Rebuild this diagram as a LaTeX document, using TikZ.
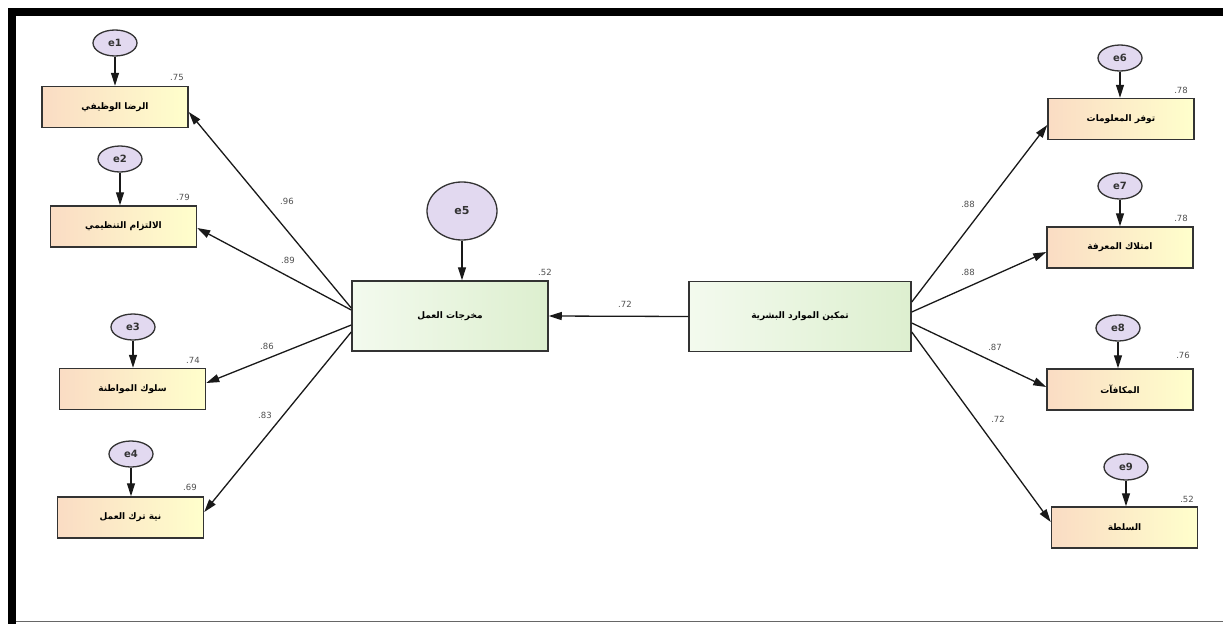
\documentclass[tikz,border=0pt]{standalone}
\usepackage{fontspec}
\setmainfont{DejaVu Sans}
\newfontfamily\arabicfont[Script=Arabic]{DejaVu Sans}
\TeXXeTstate=1
\usetikzlibrary{arrows.meta,shapes.geometric}
\definecolor{peach}{HTML}{FADCC4}
\definecolor{lyel}{HTML}{FFFFCC}
\definecolor{lgrA}{HTML}{F3FAEE}
\definecolor{lgrB}{HTML}{DDEFCF}
\definecolor{lav}{HTML}{E2D9F0}
\definecolor{edge}{HTML}{333333}
\definecolor{numc}{HTML}{505050}
\tikzset{
  obsbox/.style={draw=edge, line width=1.5pt, left color=peach, right color=lyel,
    minimum width=146pt, minimum height=41pt, inner sep=0pt,
    font=\arabicfont\bfseries\fontsize{9}{10}\selectfont},
  latbox/.style={draw=edge, line width=1.5pt, left color=lgrA, right color=lgrB,
    minimum height=70pt, inner sep=0pt,
    font=\arabicfont\bfseries\fontsize{9}{10}\selectfont},
  errell/.style={ellipse, draw=edge, line width=1.3pt, fill=lav,
    minimum width=44pt, minimum height=26pt, inner sep=0pt,
    font=\bfseries\fontsize{10}{11}\selectfont, text=black!80},
  arr/.style={draw=black!90, line width=1.3pt, -{Triangle[length=13pt,width=8pt]}},
  num/.style={font=\fontsize{8.5}{9}\selectfont, text=numc, inner sep=0pt}
}
\newcommand{\AR}[1]{\beginR #1\endR}
\begin{document}
\begin{tikzpicture}[x=1pt,y=-1pt]
\useasboundingbox (0,0) rectangle (1223,624);
\fill[white] (0,0) rectangle (1223,624);
% frame
\fill[black] (8,8) rectangle (1223,16);
\fill[black] (8,8) rectangle (16,624);
\draw[black!60, line width=1pt] (16,621) -- (1223,621);

% left observed boxes
\node[obsbox] (B1) at (115,107) {\AR{الرضا الوظيفي}};
\node[obsbox] (B2) at (123.5,226.5) {\AR{الالتزام التنظيمي}};
\node[obsbox] (B3) at (132.5,389) {\AR{سلوك المواطنة}};
\node[obsbox] (B4) at (130.5,517.5) {\AR{نية ترك العمل}};
% right observed boxes
\node[obsbox] (R1) at (1121,119) {\AR{توفر المعلومات}};
\node[obsbox] (R2) at (1120,247.5) {\AR{امتلاك المعرفة}};
\node[obsbox] (R3) at (1120,389.5) {\AR{المكافآت}};
\node[obsbox] (R4) at (1124.5,527.5) {\AR{السلطة}};
% central boxes
\node[latbox, minimum width=196pt] (M) at (450,316) {\AR{مخرجات العمل}};
\node[latbox, minimum width=222pt] (T) at (800,316.5) {\AR{تمكين الموارد البشرية}};

% error terms
\node[errell] (e1) at (115,43) {e1};
\node[errell] (e2) at (120,159) {e2};
\node[errell] (e3) at (133,327) {e3};
\node[errell] (e4) at (131,454) {e4};
\node[errell, minimum width=70pt, minimum height=58pt, font=\bfseries\fontsize{11}{12}\selectfont] (e5) at (462,211) {e5};
\node[errell] (e6) at (1120,58) {e6};
\node[errell] (e7) at (1120,186) {e7};
\node[errell] (e8) at (1118,328) {e8};
\node[errell] (e9) at (1126,467) {e9};

\foreach \e/\b in {e1/B1,e2/B2,e3/B3,e4/B4,e5/M,e6/R1,e7/R2,e8/R3,e9/R4}
  \draw[arr] (\e) -- (\e |- \b.north);

% paths
\draw[arr] (T.west) -- (M.east);
\draw[arr] ([yshift=8pt]M.west) -- ([yshift=-5pt]B1.east);
\draw[arr] ([yshift=6pt]M.west) -- ([yshift=-1.5pt]B2.east);
\draw[arr] ([yshift=-9pt]M.west) -- ([yshift=6pt]B3.east);
\draw[arr] ([yshift=-16pt]M.west) -- ([yshift=5.5pt]B4.east);
\draw[arr] ([yshift=14.5pt]T.east) -- ([yshift=-6pt]R1.west);
\draw[arr] ([yshift=4.5pt]T.east) -- ([yshift=-4.5pt]R2.west);
\draw[arr] ([yshift=-6.5pt]T.east) -- ([yshift=2.5pt]R3.west);
\draw[arr] ([yshift=-15.5pt]T.east) -- ([yshift=5.5pt]R4.west);

% squared multiple correlations
\node[num] (r1) at (177,77) {.75};
\node[num] (r2) at (183,197) {.79};
\node[num] (r3) at (193,360) {.74};
\node[num] (r4) at (190,487) {.69};
\node[num] (r5) at (545,272) {.52};
\node[num] (r6) at (1181,90) {.78};
\node[num] (r7) at (1181,218) {.78};
\node[num] (r8) at (1183,355) {.76};
\node[num] (r9) at (1187,499) {.52};
% path coefficients
\node[num] (p0) at (625,304) {.72};
\node[num] (p1) at (287,201) {.96};
\node[num] (p2) at (288,260) {.89};
\node[num] (p3) at (267,346) {.86};
\node[num] (p4) at (265,415) {.83};
\node[num] (p5) at (968,204) {.88};
\node[num] (p6) at (968,272) {.88};
\node[num] (p7) at (995,347) {.87};
\node[num] (p8) at (998,419) {.72};
\end{tikzpicture}
\end{document}
